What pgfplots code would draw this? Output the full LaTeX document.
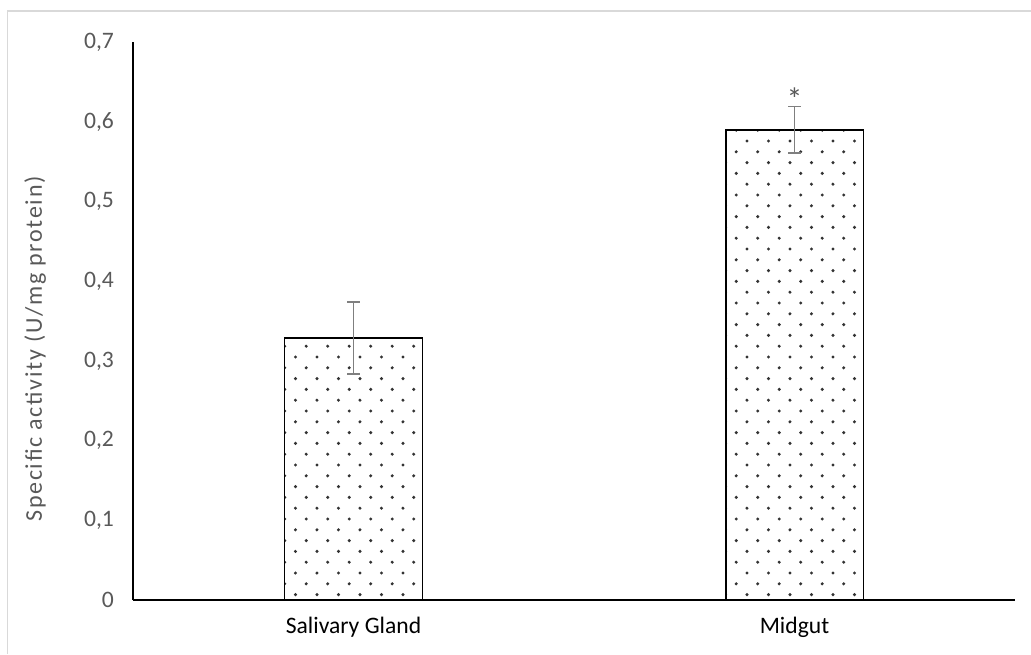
\documentclass[border=0pt]{standalone}
\usepackage{pgfplots}
\pgfplotsset{compat=1.18}
\usepackage{fontspec}
\setmainfont{Carlito}
\newfontfamily\ylabfont[LetterSpace=7]{Carlito}
\usetikzlibrary{patterns.meta}
\pgfdeclarepattern{
  name=xldots,
  type=uncolored,
  bottom left={\pgfpoint{-0.1pt}{-0.1pt}},
  top right={\pgfpoint{10.85pt}{10.9pt}},
  tile size={\pgfpoint{10.75pt}{10.8pt}},
  code={
    \pgfpathcircle{\pgfpoint{2.6pt}{2.7pt}}{0.85pt}
    \pgfpathcircle{\pgfpoint{7.975pt}{8.1pt}}{0.85pt}
    \pgfusepath{fill}
  }
}
\definecolor{ticktext}{HTML}{595959}
\definecolor{errgray}{HTML}{7F7F7F}
\definecolor{framegray}{HTML}{D9D9D9}
\pgfplotstableread{
x y err
0 0.329 0.045
1 0.590 0.029
}\datatable
\begin{document}
\begin{tikzpicture}
\path[use as bounding box] (0,0) rectangle (515.5pt,327pt);
\draw[framegray, line width=0.6pt] (3.75pt,0) -- (3.75pt,321.5pt) -- (515.5pt,321.5pt);
\begin{axis}[
  at={(66.5pt,27pt)}, anchor=south west,
  scale only axis, width=441pt, height=279pt,
  xmin=-0.5, xmax=1.5, ymin=0, ymax=0.7,
  axis x line=bottom, axis y line=left,
  axis line style={-, black, line width=0.7pt},
  major tick length=0pt,
  xtick=data, xticklabels={Salivary Gland, Midgut},
  ytick={0,0.1,...,0.7},
  /pgf/number format/assume math mode=true,
  /pgf/number format/use comma, /pgf/number format/fixed, /pgf/number format/precision=1,
  yticklabel style={font=\fontsize{11.8}{13}\selectfont, text=ticktext, xshift=-6pt},
  xticklabel style={font=\fontsize{11.8}{13}\selectfont, text=black, yshift=-5pt},
  ylabel={Specific activity (U/mg protein)},
  ylabel style={font=\ylabfont\fontsize{12}{13}\selectfont, text=ticktext, at={(axis description cs:-0.111,0.45)}, anchor=center},
  clip=false,
]
\addplot[ybar, bar width=0.3125, draw=black, line width=0.9pt, fill=white,
  pattern={xldots}, pattern color=black!80,
  error bars/.cd, y dir=both, y explicit,
  error bar style={errgray, line width=0.9pt},
  error mark options={errgray, line width=0.9pt, mark size=3.2pt, rotate=90}]
  table[x=x, y=y, y error=err] {\datatable};
\node[anchor=north, inner sep=0pt, text=ticktext, font=\fontsize{16}{16}\selectfont] at (axis cs:1,0.6436) {*};
\end{axis}
\end{tikzpicture}
\end{document}
